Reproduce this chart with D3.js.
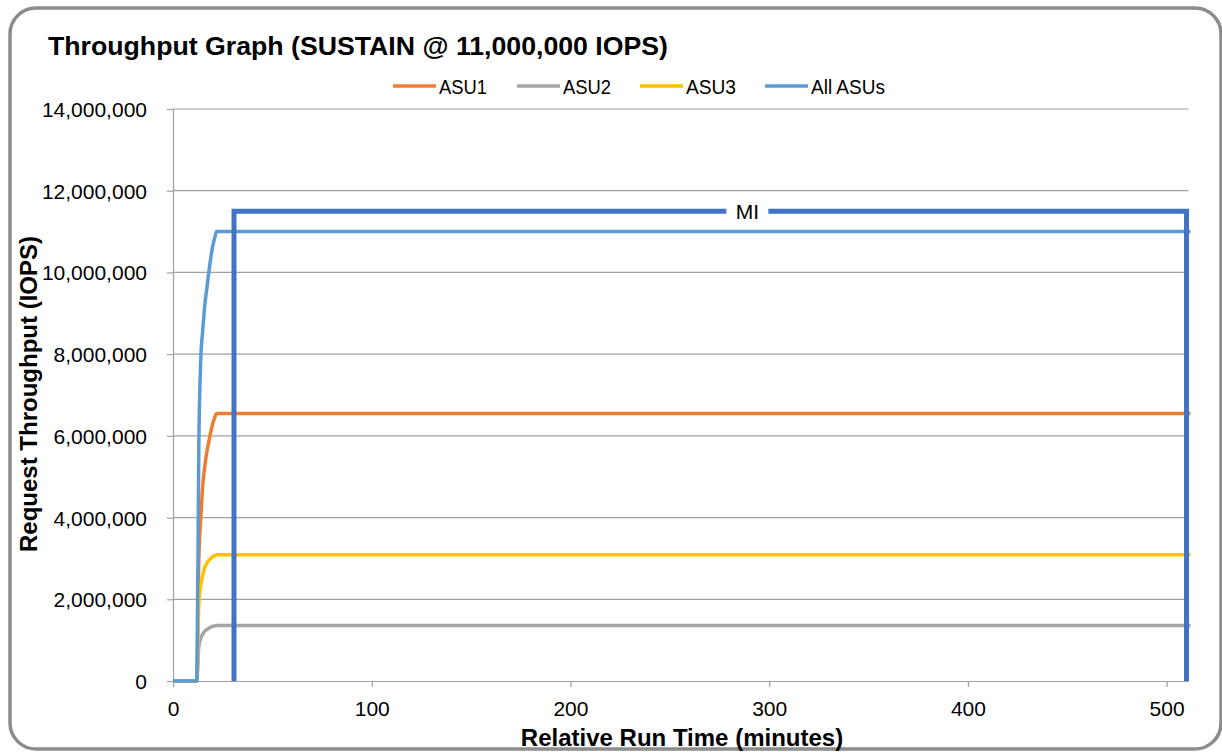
<!DOCTYPE html>
<html><head><meta charset="utf-8">
<script src="https://cdn.jsdelivr.net/npm/d3@7"></script>
<style>
html,body{margin:0;padding:0;background:#fff;}
svg{display:block;font-family:"Liberation Sans",Arial,sans-serif;}
</style></head>
<body><svg id="c" width="1222" height="752"></svg>
<script>
const title = "Throughput Graph (SUSTAIN @ 11,000,000 IOPS)";
const xTitle = "Relative Run Time (minutes)";
const yTitle = "Request Throughput (IOPS)";
const minutes = [0, 12, 13, 14, 15, 16, 17, 18, 19, 20, 21, 22, 60, 100, 150, 200, 250, 300, 350, 400, 450, 500, 512];
const asu1 = [0, 0, 3000000, 4000000, 4800000, 5250000, 5600000, 5850000, 6100000, 6300000, 6450000, 6545000, 6545000, 6545000, 6545000, 6545000, 6545000, 6545000, 6545000, 6545000, 6545000, 6545000, 6545000];
const asu2 = [0, 0, 850000, 1050000, 1150000, 1220000, 1260000, 1290000, 1320000, 1340000, 1350000, 1360000, 1360000, 1360000, 1360000, 1360000, 1360000, 1360000, 1360000, 1360000, 1360000, 1360000, 1360000];
const asu3 = [0, 0, 1900000, 2350000, 2600000, 2780000, 2880000, 2950000, 3000000, 3040000, 3070000, 3090000, 3090000, 3090000, 3090000, 3090000, 3090000, 3090000, 3090000, 3090000, 3090000, 3090000, 3090000];
const allAsus = [0, 0, 5800000, 7900000, 8600000, 9200000, 9600000, 10000000, 10350000, 10650000, 10850000, 11000000, 11000000, 11000000, 11000000, 11000000, 11000000, 11000000, 11000000, 11000000, 11000000, 11000000, 11000000];
const seriesNames = ["ASU1", "ASU2", "ASU3", "All ASUs"];
const seriesColors = ["#ED7D31", "#A5A5A5", "#FFC000", "#5B9BD5"];
const miStart = 30.7, miEnd = 510, miLevel = 11500000, miLabelAt = 289;
const xTicks = [0, 100, 200, 300, 400, 500];
const yTicks = [0, 2000000, 4000000, 6000000, 8000000, 10000000, 12000000, 14000000];

const svg = d3.select("#c");
const L = 173, R = 1188.5, T = 109, B = 681;
const x = d3.scaleLinear().domain([0, 511]).range([L, R]);
const y = d3.scaleLinear().domain([0, 14000000]).range([B, T]);
const fmt = d3.format(",");

// outer frame
svg.append("rect").attr("x", 10).attr("y", 8).attr("width", 1211).attr("height", 741)
  .attr("rx", 26).attr("ry", 26).attr("fill", "#fff").attr("stroke", "#8C8C8C").attr("stroke-width", 3.5);

// title
svg.append("text").attr("x", 48).attr("y", 55).attr("font-size", 26).attr("font-weight", "bold")
  .attr("textLength", 620).attr("lengthAdjust", "spacingAndGlyphs")
  .attr("fill", "#000").text(title);

// gridlines
svg.append("g").selectAll("line").data(yTicks.slice(1)).join("line")
  .attr("x1", L).attr("x2", R).attr("y1", d => y(d)).attr("y2", d => y(d))
  .attr("stroke", "#A0A0A0").attr("stroke-width", 1.2);

// y axis
const gy = svg.append("g").attr("transform", `translate(${L},0)`)
  .call(d3.axisLeft(y).tickValues(yTicks).tickFormat(fmt).tickSize(6).tickPadding(20));
gy.select(".domain").attr("stroke", "#A0A0A0").attr("stroke-width", 1.2);
gy.selectAll(".tick line").attr("stroke", "#A0A0A0").attr("stroke-width", 1.2);
gy.selectAll(".tick text").attr("font-size", 21).attr("fill", "#000").attr("font-family", "Liberation Sans, Arial, sans-serif").attr("dy", "0.36em");

// x axis
const gx = svg.append("g").attr("transform", `translate(0,${B})`)
  .call(d3.axisBottom(x).tickValues(xTicks).tickFormat(d3.format("d")).tickSize(6).tickPadding(14).tickSizeOuter(0));
gx.select(".domain").attr("stroke", "#A0A0A0").attr("stroke-width", 1.2);
gx.selectAll(".tick line").attr("stroke", "#A0A0A0").attr("stroke-width", 1.2);
gx.selectAll(".tick text").attr("font-size", 21).attr("fill", "#000").attr("font-family", "Liberation Sans, Arial, sans-serif");

// axis titles
svg.append("text").attr("x", 682).attr("y", 746).attr("text-anchor", "middle")
  .attr("font-size", 24).attr("font-weight", "bold").text(xTitle);
svg.append("text").attr("transform", "translate(37,394) rotate(-90)").attr("text-anchor", "middle")
  .attr("font-size", 24).attr("font-weight", "bold").text(yTitle);

// series
const data = [asu1, asu2, asu3, allAsus];
const line = d3.line().x((d, i) => x(minutes[i])).y(d => y(d)).curve(d3.curveMonotoneX);
svg.append("g").selectAll("path").data(data).join("path")
  .attr("d", d => line(d)).attr("fill", "none")
  .attr("stroke", (d, i) => seriesColors[i]).attr("stroke-width", 3.5)
  .attr("stroke-linejoin", "round");

// MI box
const miPts = [[miStart, 0], [miStart, miLevel], [miEnd, miLevel], [miEnd, 0]];
svg.append("path").attr("d", d3.line().x(d => x(d[0])).y(d => y(d[1]))(miPts))
  .attr("fill", "none").attr("stroke", "#4472C4").attr("stroke-width", 5);
svg.append("rect").attr("x", x(miLabelAt) - 21).attr("y", y(miLevel) - 6).attr("width", 42).attr("height", 12).attr("fill", "#fff");
svg.append("text").attr("x", x(miLabelAt)).attr("y", y(miLevel) + 7.5).attr("text-anchor", "middle")
  .attr("font-size", 21).attr("fill", "#000").text("MI");

// legend
const legX = [393, 517, 640, 765];
const legTextW = [48, 48, 50, 74];
const lg = svg.append("g").selectAll("g").data(seriesNames).join("g")
  .attr("transform", (d, i) => `translate(${legX[i]},86)`);
lg.append("line").attr("x1", 0).attr("x2", 43).attr("stroke", (d, i) => seriesColors[i]).attr("stroke-width", 3.5);
lg.append("text").attr("x", 46).attr("y", 7.5).attr("font-size", 20.5).attr("fill", "#000")
  .attr("textLength", (d, i) => legTextW[i]).attr("lengthAdjust", "spacingAndGlyphs").text(d => d);
</script></body></html>
